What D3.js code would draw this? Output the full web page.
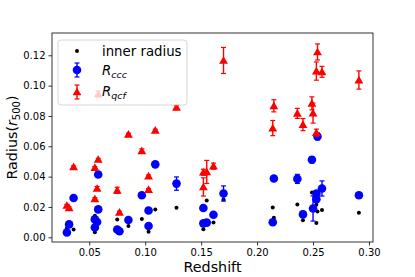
<!DOCTYPE html>
<html>
<head>
<meta charset="utf-8">
<script src="https://cdn.jsdelivr.net/npm/d3@7"></script>
<style>
  body { margin: 0; background: #fff; }
  text { font-family: "DejaVu Sans", sans-serif; }
</style>
</head>
<body>
<div id="chart"></div>
<script>
// redshift of each cluster
var redshift = [0.030, 0.032, 0.036, 0.055, 0.055, 0.057, 0.058, 0.058, 0.075, 0.077,
                0.085, 0.097, 0.103, 0.103, 0.109, 0.128, 0.152, 0.152, 0.155, 0.161,
                0.170, 0.214, 0.215, 0.236, 0.241, 0.249, 0.250, 0.253, 0.254, 0.253,
                0.258, 0.291];
var innerRadius = [0.0059, 0.0086, 0.0051, 0.0142, 0.0033, 0.0099, 0.0185, 0.0414, 0.0117, 0.0040,
                   0.0075, 0.0121, 0.0176, 0.0036, 0.0183, 0.0195, 0.0053, 0.0092, 0.0243, 0.0097,
                   0.0249, 0.0197, 0.0129, 0.0216, 0.0112, 0.0296, 0.0190, 0.0215, 0.0170, 0.0094,
                   0.0180, 0.0162];
var rccc = [0.0032, 0.0085, 0.0259, 0.0118, 0.0065, 0.0101, 0.0184, 0.0414, 0.0051, 0.0040,
            0.0114, 0.0277, 0.0177, 0.0074, 0.0481, 0.0354, 0.0193, 0.0092, 0.0097, 0.0149,
            0.0289, 0.0099, 0.0388, 0.0385, 0.0151, 0.0511, 0.0190, 0.0289, 0.0665, 0.0251,
            0.0322, 0.0277];
var rcccErr = [0.0007, 0.0007, 0.0007, 0.0007, 0.0007, 0.0007, 0.0007, 0.0007, 0.0007, 0.0007,
               0.0007, 0.0007, 0.0007, 0.0007, 0.0010, 0.0044, 0.0007, 0.0007, 0.0013, 0.0007,
               0.0050, 0.0007, 0.0007, 0.0030, 0.0020, 0.0020, 0.0083, 0.0010, 0.0023, 0.0010,
               0.0050, 0.0013];
var rqcf = [0.0210, 0.0194, 0.0464, 0.0254, 0.0459, 0.0322, 0.0513, 0.0945, 0.0310, 0.0165,
            0.0679, 0.0570, 0.0315, 0.0404, 0.0705, 0.0857, 0.0332, 0.0429, 0.0431, 0.0469,
            0.1166, 0.0720, 0.0867, 0.0817, 0.0743, 0.0883, 0.0819, 0.0690, 0.1222, 0.1096,
            0.1091, 0.1037];
var rqcfErr = [0.0007, 0.0007, 0.0007, 0.0007, 0.0007, 0.0013, 0.0007, 0.0020, 0.0020, 0.0007,
               0.0007, 0.0013, 0.0007, 0.0007, 0.0007, 0.0013, 0.0060, 0.0020, 0.0076, 0.0020,
               0.0086, 0.0050, 0.0040, 0.0033, 0.0040, 0.0043, 0.0066, 0.0023, 0.0053, 0.0060,
               0.0036, 0.0060];
var xTicks = [0.05, 0.10, 0.15, 0.20, 0.25, 0.30];
var yTicks = [0.00, 0.02, 0.04, 0.06, 0.08, 0.10, 0.12];

var W = 415, H = 277;
var margin = {top: 33, right: 42, bottom: 35, left: 52};
var width = W - margin.left - margin.right;
var height = H - margin.top - margin.bottom;

var svg = d3.select("#chart").append("svg")
    .attr("width", W)
    .attr("height", H);

var g = svg.append("g")
    .attr("transform", "translate(" + margin.left + "," + margin.top + ")");

var x = d3.scaleLinear().domain([0.0167, 0.3036]).range([0, width]);
var y = d3.scaleLinear().domain([-0.0031, 0.1347]).range([height, 0]);

// axes
var xAxis = g.append("g")
    .attr("transform", "translate(0," + height + ")")
    .call(d3.axisBottom(x).tickValues(xTicks).tickSize(3.5).tickPadding(3)
        .tickFormat(d3.format(".2f")));
var yAxis = g.append("g")
    .call(d3.axisLeft(y).tickValues(yTicks).tickSize(3.5).tickPadding(3)
        .tickFormat(d3.format(".2f")));
[xAxis, yAxis].forEach(function(a){
    a.select(".domain").remove();
    a.selectAll("line").attr("stroke", "#000").attr("stroke-width", 0.8);
    a.selectAll("text").attr("fill", "#000").style("font-size", "10px")
        .style("font-family", "DejaVu Sans");
});

var redTri = d3.symbol().type(d3.symbolTriangle).size(34);

var data = redshift.map(function(z, i){
    return {z: z, inner: innerRadius[i], ccc: rccc[i], cccErr: rcccErr[i],
            qcf: rqcf[i], qcfErr: rqcfErr[i]};
});

function errorbars(sel, key, errKey, color) {
    var eb = sel.selectAll("g.eb-" + key).data(data).enter().append("g");
    eb.append("line")
        .attr("x1", function(d){ return x(d.z); })
        .attr("x2", function(d){ return x(d.z); })
        .attr("y1", function(d){ return y(d[key] - d[errKey]); })
        .attr("y2", function(d){ return y(d[key] + d[errKey]); })
        .attr("stroke", color).attr("stroke-width", 1.4);
    [-1, 1].forEach(function(s){
        eb.append("line")
            .attr("x1", function(d){ return x(d.z) - 2.5; })
            .attr("x2", function(d){ return x(d.z) + 2.5; })
            .attr("y1", function(d){ return y(d[key] + s * d[errKey]); })
            .attr("y2", function(d){ return y(d[key] + s * d[errKey]); })
            .attr("stroke", color).attr("stroke-width", 1.2);
    });
}

// inner radius
g.selectAll("circle.inner").data(data).enter().append("circle")
    .attr("cx", function(d){ return x(d.z); })
    .attr("cy", function(d){ return y(d.inner); })
    .attr("r", 2)
    .attr("fill", "#000");

// R_ccc
errorbars(g, "ccc", "cccErr", "#0000ff");
g.selectAll("circle.ccc").data(data).enter().append("circle")
    .attr("cx", function(d){ return x(d.z); })
    .attr("cy", function(d){ return y(d.ccc); })
    .attr("r", 4.3)
    .attr("fill", "#0000ff");

// R_qcf
errorbars(g, "qcf", "qcfErr", "#ff0000");
g.selectAll("path.qcf").data(data).enter().append("path")
    .attr("d", redTri)
    .attr("transform", function(d){ return "translate(" + x(d.z) + "," + (y(d.qcf) + 0.8) + ")"; })
    .attr("fill", "#ff0000");

// frame
g.append("rect")
    .attr("width", width).attr("height", height)
    .attr("fill", "none").attr("stroke", "#000").attr("stroke-width", 0.8);

// labels
svg.append("text")
    .attr("x", margin.left + width / 2)
    .attr("y", 272)
    .attr("text-anchor", "middle")
    .style("font-size", "14.3px")
    .text("Redshift");

var yl = svg.append("text")
    .attr("transform", "translate(17," + (margin.top + height / 2) + ") rotate(-90)")
    .attr("text-anchor", "middle")
    .style("font-size", "14.3px");
yl.append("tspan").text("Radius(");
yl.append("tspan").style("font-style", "italic").text("r");
yl.append("tspan").attr("dy", 3).style("font-size", "10px").text("500");
yl.append("tspan").attr("dy", -3).text(")");

// legend
var lg = svg.append("g").attr("transform", "translate(58,40)");
lg.append("rect")
    .attr("width", 129).attr("height", 65).attr("rx", 3)
    .attr("fill", "#fff").attr("fill-opacity", 0.8)
    .attr("stroke", "#cccccc").attr("stroke-width", 0.8);

lg.append("circle").attr("cx", 19).attr("cy", 11).attr("r", 2).attr("fill", "#000");
lg.append("text").attr("x", 44).attr("y", 15.5).style("font-size", "13.3px").text("inner radius");

function legendBar(cy, color) {
    lg.append("line").attr("x1", 19).attr("x2", 19).attr("y1", cy - 7).attr("y2", cy + 7)
        .attr("stroke", color).attr("stroke-width", 1.4);
    [-7, 7].forEach(function(o){
        lg.append("line").attr("x1", 16.5).attr("x2", 21.5).attr("y1", cy + o).attr("y2", cy + o)
            .attr("stroke", color).attr("stroke-width", 1.2);
    });
}
legendBar(30, "#0000ff");
lg.append("circle").attr("cx", 19).attr("cy", 30).attr("r", 4.3).attr("fill", "#0000ff");
legendBar(52, "#ff0000");
lg.append("path").attr("d", redTri).attr("transform", "translate(19,52.8)").attr("fill", "#ff0000");

function mathLabel(ty, sub) {
    var t = lg.append("text").attr("x", 44).attr("y", ty).style("font-size", "13.3px")
        .style("font-style", "italic");
    t.append("tspan").text("R");
    t.append("tspan").attr("dy", 3).style("font-size", "9.5px").text(sub);
}
mathLabel(35, "ccc");
mathLabel(56, "qcf");
</script>
</body>
</html>
